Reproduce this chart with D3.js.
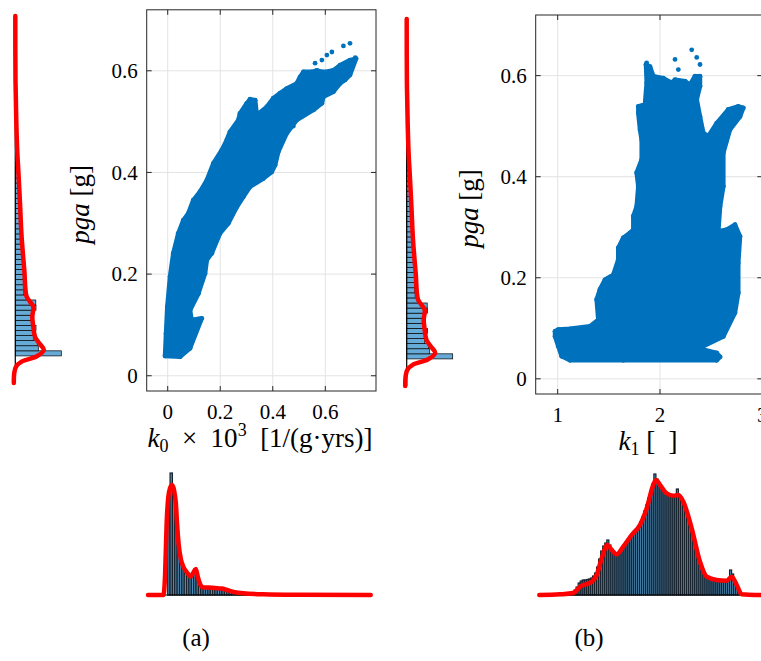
<!DOCTYPE html>
<html>
<head>
<meta charset="utf-8">
<script src="https://cdn.jsdelivr.net/npm/d3@7"></script>
<style>
  body { margin: 0; background: #fff; }
  svg { display: block; }
  text { font-family: "Liberation Serif", "Times New Roman", serif; fill: #000; }
</style>
</head>
<body>
<svg id="fig" width="761" height="661"></svg>
<script>
// ---------------- data ----------------
const pgaTicks = [0, 0.2, 0.4, 0.6];
const pgaTickLabels = ["0", "0.2", "0.4", "0.6"];
const k0Ticks = [0, 0.2, 0.4, 0.6];
const k0TickLabels = ["0", "0.2", "0.4", "0.6"];
const k1Ticks = [1, 2, 3];
const k1TickLabels = ["1", "2", "3"];

// outline of the (k0, pga) sample cloud
const cloudK0 = [
  [-0.0103,0.0388],[0.047,0.0374],[0.085,0.054],[0.1295,0.113],[0.091,0.1096],[0.085,0.129],
  [0.117,0.162],[0.142,0.201],[0.149,0.228],[0.168,0.241],[0.199,0.280],[0.231,0.300],
  [0.263,0.332],[0.288,0.352],[0.3135,0.372],[0.364,0.388],[0.396,0.401],[0.409,0.4145],
  [0.421,0.4407],[0.453,0.477],[0.491,0.503],[0.555,0.523],[0.587,0.536],[0.593,0.549],
  [0.631,0.559],[0.656,0.575],[0.675,0.582],[0.694,0.592],[0.717,0.624],[0.694,0.621],
  [0.656,0.611],[0.631,0.601],[0.606,0.598],[0.587,0.598],[0.568,0.601],[0.549,0.598],
  [0.517,0.598],[0.504,0.588],[0.491,0.575],[0.453,0.565],[0.428,0.556],[0.402,0.546],
  [0.377,0.529],[0.339,0.513],[0.333,0.542],[0.3135,0.544],[0.301,0.536],[0.275,0.516],
  [0.269,0.503],[0.237,0.480],[0.225,0.464],[0.206,0.444],[0.174,0.418],[0.149,0.385],
  [0.123,0.362],[0.0975,0.3457],[0.0785,0.3195],[0.0594,0.306],[0.040,0.280],[0.0213,0.241],
  [0.0088,0.195],[-0.0015,0.136],[-0.0065,0.083]
];
const strayK0 = [
  [0.694,0.654],[0.669,0.649],[0.625,0.637],[0.606,0.631],[0.587,0.621],[0.561,0.615],
  [0.669,0.601],[0.707,0.618],[0.714,0.626],[0.409,0.544],[0.478,0.491]
];

// outline of the (k1, pga) sample cloud
const cloudK1 = [
  [0.974,0.094],[1.006,0.0975],[1.12,0.099],[1.316,0.104],[1.397,0.117],[1.381,0.157],
  [1.413,0.177],[1.462,0.196],[1.544,0.206],[1.592,0.236],[1.592,0.259],[1.641,0.279],
  [1.707,0.289],[1.739,0.295],[1.739,0.322],[1.772,0.341],[1.788,0.381],[1.772,0.408],
  [1.821,0.434],[1.821,0.473],[1.805,0.493],[1.788,0.526],[1.788,0.539],[1.853,0.543],
  [1.870,0.586],[1.863,0.622],[1.902,0.618],[1.935,0.599],[2.032,0.595],[2.114,0.586],
  [2.147,0.592],[2.244,0.589],[2.293,0.582],[2.342,0.599],[2.391,0.599],[2.391,0.579],
  [2.359,0.553],[2.391,0.519],[2.423,0.487],[2.472,0.480],[2.554,0.506],[2.668,0.533],
  [2.765,0.539],[2.814,0.536],[2.782,0.519],[2.684,0.493],[2.619,0.447],[2.619,0.381],
  [2.587,0.341],[2.570,0.292],[2.652,0.295],[2.733,0.305],[2.782,0.282],[2.765,0.229],
  [2.765,0.170],[2.733,0.131],[2.619,0.084],[2.423,0.0645],[2.359,0.061],[2.554,0.0514],
  [2.587,0.0435],[2.554,0.0368],[1.641,0.0368],[1.12,0.0368],[1.039,0.0447],[1.006,0.0645],
  [0.974,0.084]
];
const strayK1 = [
  [2.310,0.651],[2.147,0.632],[2.179,0.612],[2.359,0.636],[2.391,0.622],[1.870,0.625],
  [2.163,0.576]
];

// pga histogram (bin start, bin width, relative counts) and its density estimate
const pgaBinStart = 0.0393;
const pgaBinWidth = 0.01;
const pgaCounts = [46,23,22,18,18,20.7,17,17,17,20.7,20.5,11.3,8.5,8,8,8,8,8,7.7,7.3,7,6.7,6.5,6.2,5.8,
  5.5,5.3,5,4.7,4.3,4,3.6,3.3,3,2.7,2.4,2,1.7,1.5,1.3,1.1,1.0,0.9,0.8,0.7,0.6,0.55,0.5,0.45,0.4,
  0.35,0.3,0.25,0.2,0.2,0.15,0.15,0.1,0.1,0.1,0.05,0.05];
const pgaDensity = [
  [0.708,0],[0.58,0.2],[0.50,1],[0.44,2],[0.405,3],[0.34,4.7],[0.274,6.3],[0.208,9],[0.156,11.3],
  [0.146,14.7],[0.136,18],[0.116,17],[0.097,18],[0.077,19.7],[0.064,24],[0.051,28.5],[0.038,21],
  [0.028,6.3],[0.018,0.7],[0.006,-1],[-0.014,-1.5]
];

// k0 histogram and density estimate
const k0BinStart = 0;
const k0BinWidth = 0.009;
const k0Counts = [100,122,104,75,50,36,29,25,22,19.5,22,26,21,13,8.5,7.5,7.5,7.5,7.5,7.3,7,6.8,6.5,
  6.2,5.3,4.3,3.5,3,2.6,2.3,2,1.8,1.6,1.5,1.3,1.2,1.1,1.0,0.9,0.85,0.8,0.75,0.7,0.65,0.6,0.55,0.5,
  0.45,0.4,0.35,0.3,0.3,0.25,0.25,0.2,0.2,0.15,0.15,0.1,0.1,0.1,0.1,0.05];
const k0Density = [
  [-0.075,0],[-0.016,0],[-0.010,20],[-0.004,72],[0.002,97],[0.009,107],[0.017,110],[0.024,105],
  [0.031,92],[0.036,70],[0.042,50],[0.050,36],[0.060,28],[0.072,23],[0.088,18.5],[0.097,22],
  [0.107,26],[0.114,19],[0.123,11],[0.136,7.5],[0.155,7.5],[0.180,7],[0.206,6.5],[0.225,5],
  [0.250,3],[0.288,1.8],[0.364,0.8],[0.491,0.3],[0.773,0]
];

// k1 histogram and density estimate
const k1BinStart = 1.0;
const k1BinWidth = 0.02;
const k1Counts = [0.5,0.7,1,1.2,1.5,2,2.5,3.5,5,8,12,14,15,15,15.5,16,17,19,22,28,36,44,49,52,55,50,
  46,42,40,41,44,47,50,53,56,59,61,64,66,69,73,78,84,90,97,104,111,121,116,112,108,105,102,100,99,
  99,99,100,106,99,96,92,86,79,71,62,53,44,36,29,24,20,18,17,16,15.5,15,15,15,15,14.5,14.5,15,16,
  25,21,14,8,3,0.5];
const k1Density = [
  [0.82,0],[1.022,0.7],[1.152,2],[1.218,8.3],[1.332,13.3],[1.381,20],[1.430,36.7],[1.485,50],
  [1.528,45],[1.577,40.7],[1.641,48.3],[1.723,60],[1.804,70],[1.870,86.7],[1.934,110],[1.961,115],
  [2.000,110],[2.065,101.7],[2.130,99.3],[2.179,100],[2.228,93.3],[2.310,66.7],[2.391,33.3],
  [2.457,18.3],[2.554,15],[2.652,14.3],[2.701,18.3],[2.750,10],[2.799,0.7],[2.929,0],[3.0,0]
];

// ---------------- drawing ----------------
const svg = d3.select("#fig");
const BLUE = "#0072BD";
const BAR = "#66AAD7";
const RED = "#FF0000";
const GRID = "#E3E3E3";
const FRAME = "#262626";
const LABEL_SIZE = 27;
const TICK_SIZE = 21;

function scatterPanel(cfg) {
  const { x, y, xTicks, xLabels, yTicks, yLabels, cloud, stray } = cfg;
  const g = svg.append("g");
  const [x0, x1] = x.range(), [y0, y1] = y.range();
  // grid
  g.selectAll(".gx").data(xTicks).join("line")
    .attr("class", "gx")
    .attr("x1", d => x(d)).attr("x2", d => x(d)).attr("y1", y0).attr("y2", y1)
    .attr("stroke", GRID).attr("stroke-width", 1);
  g.selectAll(".gy").data(yTicks).join("line")
    .attr("class", "gy")
    .attr("x1", x0).attr("x2", x1).attr("y1", d => y(d)).attr("y2", d => y(d))
    .attr("stroke", GRID).attr("stroke-width", 1);
  // sample cloud
  g.append("path").datum(cloud)
    .attr("d", d3.line().x(d => x(d[0])).y(d => y(d[1])).curve(d3.curveLinearClosed))
    .attr("fill", BLUE).attr("stroke", BLUE).attr("stroke-width", 4.5).attr("stroke-linejoin", "round");
  g.selectAll(".dot").data(cloud.concat(stray)).join("circle")
    .attr("class", "dot")
    .attr("cx", d => x(d[0])).attr("cy", d => y(d[1])).attr("r", 2.4).attr("fill", BLUE);
  // frame
  g.append("rect").attr("x", x0).attr("y", y1).attr("width", x1 - x0).attr("height", y0 - y1)
    .attr("fill", "none").attr("stroke", FRAME).attr("stroke-width", 1);
  // ticks on all four sides
  const tl = 5;
  xTicks.forEach(t => {
    g.append("line").attr("x1", x(t)).attr("x2", x(t)).attr("y1", y0).attr("y2", y0 - tl).attr("stroke", FRAME);
    g.append("line").attr("x1", x(t)).attr("x2", x(t)).attr("y1", y1).attr("y2", y1 + tl).attr("stroke", FRAME);
  });
  yTicks.forEach(t => {
    g.append("line").attr("x1", x0).attr("x2", x0 + tl).attr("y1", y(t)).attr("y2", y(t)).attr("stroke", FRAME);
    g.append("line").attr("x1", x1).attr("x2", x1 - tl).attr("y1", y(t)).attr("y2", y(t)).attr("stroke", FRAME);
  });
  // tick labels
  g.selectAll(".yl").data(yTicks).join("text")
    .attr("class", "yl")
    .attr("x", x0 - 9).attr("y", d => y(d)).attr("dy", "0.34em")
    .attr("text-anchor", "end").attr("font-size", TICK_SIZE)
    .text((d, i) => yLabels[i]);
  g.selectAll(".xl").data(xTicks).join("text")
    .attr("class", "xl")
    .attr("x", d => x(d)).attr("y", y0 + 27.5)
    .attr("text-anchor", "middle").attr("font-size", TICK_SIZE)
    .text((d, i) => xLabels[i]);
  // y label
  const yl = g.append("text")
    .attr("transform", `translate(${x0 - 58},${(y0 + y1) / 2 + 4}) rotate(-90)`)
    .attr("text-anchor", "middle").attr("font-size", LABEL_SIZE);
  yl.append("tspan").attr("font-style", "italic").text("pga");
  yl.append("tspan").text(" [g]");
  return g;
}

function pgaMarginal(y, len) {
  const g = svg.append("g");
  g.selectAll("rect").data(pgaCounts).join("rect")
    .attr("x", len(0))
    .attr("y", (d, i) => y(pgaBinStart + (i + 1) * pgaBinWidth))
    .attr("width", d => len(d) - len(0))
    .attr("height", (d, i) => y(pgaBinStart + i * pgaBinWidth) - y(pgaBinStart + (i + 1) * pgaBinWidth))
    .attr("fill", BAR).attr("stroke", "#000").attr("stroke-width", 0.7);
  g.append("line").attr("x1", len(0)).attr("x2", len(0))
    .attr("y1", y.range()[0]).attr("y2", y.range()[1])
    .attr("stroke", "#000").attr("stroke-width", 1.2);
  g.append("path").datum(pgaDensity)
    .attr("d", d3.line().x(d => len(d[1])).y(d => y(d[0])).curve(d3.curveCatmullRom.alpha(0.5)))
    .attr("fill", "none").attr("stroke", RED).attr("stroke-width", 4.5)
    .attr("stroke-linejoin", "round").attr("stroke-linecap", "round");
}

function bottomHist(x, h, start, width, counts, density) {
  const g = svg.append("g");
  g.selectAll("rect").data(counts).join("rect")
    .attr("x", (d, i) => x(start + i * width))
    .attr("y", d => h(d))
    .attr("width", (d, i) => x(start + (i + 1) * width) - x(start + i * width))
    .attr("height", d => h(0) - h(d))
    .attr("fill", "#4F8DB8").attr("stroke", "#17222d").attr("stroke-width", 1.2);
  g.append("line").attr("x1", x.range()[0]).attr("x2", x.range()[1])
    .attr("y1", h(0)).attr("y2", h(0)).attr("stroke", "#000").attr("stroke-width", 1.2);
  g.append("path").datum(density)
    .attr("d", d3.line().x(d => x(d[0])).y(d => h(d[1])).curve(d3.curveMonotoneX))
    .attr("fill", "none").attr("stroke", RED).attr("stroke-width", 4.5)
    .attr("stroke-linejoin", "round").attr("stroke-linecap", "round");
}

// panel (a)
const xA = d3.scaleLinear().domain([-0.08, 0.793]).range([146.7, 376]);
const yA = d3.scaleLinear().domain([-0.03, 0.72]).range([391, 9.8]);
scatterPanel({ x: xA, y: yA, xTicks: k0Ticks, xLabels: k0TickLabels, yTicks: pgaTicks, yLabels: pgaTickLabels,
  cloud: cloudK0, stray: strayK0 });

const xlabA = svg.append("text").attr("x", 260).attr("y", 447).attr("text-anchor", "middle").attr("font-size", LABEL_SIZE);
xlabA.append("tspan").attr("font-style", "italic").text("k");
xlabA.append("tspan").attr("font-size", 18).attr("dy", 5).text("0");
xlabA.append("tspan").attr("dy", -5).text("\u2002×\u200210");
xlabA.append("tspan").attr("font-size", 18).attr("dy", -11).text("3");
xlabA.append("tspan").attr("dy", 11).text("\u2002[1/(g·yrs)]");

pgaMarginal(d3.scaleLinear().domain([-0.014, 0.708]).range([383, 16]),
            d3.scaleLinear().domain([0, 50]).range([15.3, 65.3]));

bottomHist(d3.scaleLinear().domain([-0.075, 0.773]).range([148, 370.7]),
           d3.scaleLinear().domain([0, 125]).range([595, 470]),
           k0BinStart, k0BinWidth, k0Counts, k0Density);

// panel (b)
const xB = d3.scaleLinear().domain([0.785, 3.0]).range([535.7, 762.3]);
const yB = d3.scaleLinear().domain([-0.03, 0.72]).range([394, 15]);
scatterPanel({ x: xB, y: yB, xTicks: k1Ticks, xLabels: k1TickLabels, yTicks: pgaTicks, yLabels: pgaTickLabels,
  cloud: cloudK1, stray: strayK1 });

const xlabB = svg.append("text").attr("x", 648).attr("y", 450).attr("text-anchor", "middle").attr("font-size", LABEL_SIZE);
xlabB.append("tspan").attr("font-style", "italic").text("k");
xlabB.append("tspan").attr("font-size", 18).attr("dy", 5).text("1");
xlabB.append("tspan").attr("dy", -5).text(" [\u2002]");

pgaMarginal(d3.scaleLinear().domain([-0.014, 0.708]).range([386, 19]),
            d3.scaleLinear().domain([0, 50]).range([406.7, 456.7]));

bottomHist(d3.scaleLinear().domain([0.82, 3.0]).range([539.3, 762.3]),
           d3.scaleLinear().domain([0, 125]).range([595, 470]),
           k1BinStart, k1BinWidth, k1Counts, k1Density);

// captions
svg.append("text").attr("x", 196).attr("y", 646).attr("text-anchor", "middle").attr("font-size", 25).text("(a)");
svg.append("text").attr("x", 589).attr("y", 646).attr("text-anchor", "middle").attr("font-size", 25).text("(b)");
</script>
</body>
</html>
